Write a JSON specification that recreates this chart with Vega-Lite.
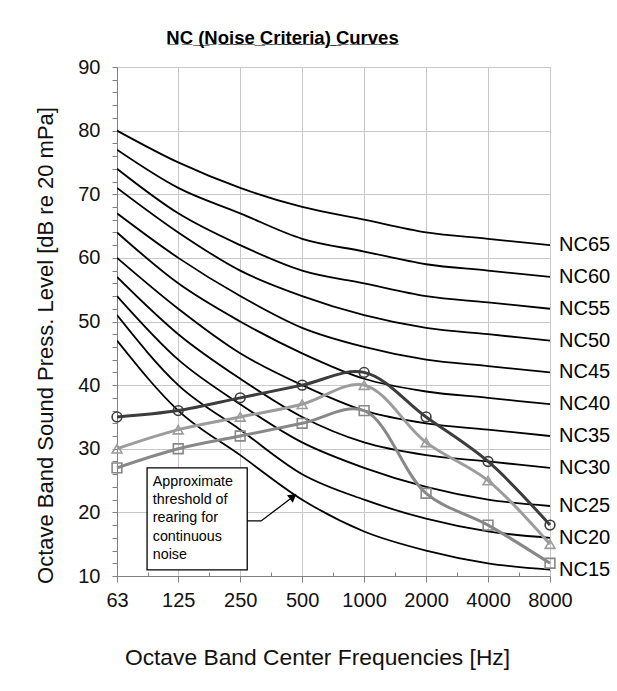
{
  "$schema": "https://vega.github.io/schema/vega-lite/v6.json",
  "width": 433,
  "height": 509,
  "autosize": {"type": "none"},
  "padding": {"left": 117, "top": 67, "right": 67, "bottom": 115},
  "background": "white",
  "config": {
    "font": "Liberation Sans",
    "view": {"stroke": "#808080", "strokeWidth": 1},
    "axis": {"domainColor": "#808080", "tickColor": "#808080", "gridColor": "#c8c8c8", "labelColor": "#111111", "titleColor": "#111111", "labelFont": "Liberation Sans", "titleFont": "Liberation Sans", "titleFontWeight": "normal"}
  },
  "title": {
    "text": "N\u0332C\u0332 \u0332(\u0332N\u0332o\u0332i\u0332s\u0332e\u0332 \u0332C\u0332r\u0332i\u0332t\u0332e\u0332r\u0332i\u0332a\u0332)\u0332 \u0332C\u0332u\u0332r\u0332v\u0332e\u0332s\u0332",
    "font": "Liberation Sans",
    "fontSize": 18.5,
    "fontWeight": "bold",
    "color": "#000000",
    "anchor": "middle",
    "frame": "group",
    "dx": -51,
    "baseline": "alphabetic",
    "offset": -5
  },
  "datasets": {
    "nc": [
      {"curve": "NC15", "freq": 63, "level": 47}, {"curve": "NC15", "freq": 125, "level": 36}, {"curve": "NC15", "freq": 250, "level": 29}, {"curve": "NC15", "freq": 500, "level": 22}, {"curve": "NC15", "freq": 1000, "level": 17}, {"curve": "NC15", "freq": 2000, "level": 14}, {"curve": "NC15", "freq": 4000, "level": 12}, {"curve": "NC15", "freq": 8000, "level": 11},
      {"curve": "NC20", "freq": 63, "level": 51}, {"curve": "NC20", "freq": 125, "level": 40}, {"curve": "NC20", "freq": 250, "level": 33}, {"curve": "NC20", "freq": 500, "level": 26}, {"curve": "NC20", "freq": 1000, "level": 22}, {"curve": "NC20", "freq": 2000, "level": 19}, {"curve": "NC20", "freq": 4000, "level": 17}, {"curve": "NC20", "freq": 8000, "level": 16},
      {"curve": "NC25", "freq": 63, "level": 54}, {"curve": "NC25", "freq": 125, "level": 44}, {"curve": "NC25", "freq": 250, "level": 37}, {"curve": "NC25", "freq": 500, "level": 31}, {"curve": "NC25", "freq": 1000, "level": 27}, {"curve": "NC25", "freq": 2000, "level": 24}, {"curve": "NC25", "freq": 4000, "level": 22}, {"curve": "NC25", "freq": 8000, "level": 21},
      {"curve": "NC30", "freq": 63, "level": 57}, {"curve": "NC30", "freq": 125, "level": 48}, {"curve": "NC30", "freq": 250, "level": 41}, {"curve": "NC30", "freq": 500, "level": 35}, {"curve": "NC30", "freq": 1000, "level": 31}, {"curve": "NC30", "freq": 2000, "level": 29}, {"curve": "NC30", "freq": 4000, "level": 28}, {"curve": "NC30", "freq": 8000, "level": 27},
      {"curve": "NC35", "freq": 63, "level": 60}, {"curve": "NC35", "freq": 125, "level": 52}, {"curve": "NC35", "freq": 250, "level": 45}, {"curve": "NC35", "freq": 500, "level": 40}, {"curve": "NC35", "freq": 1000, "level": 36}, {"curve": "NC35", "freq": 2000, "level": 34}, {"curve": "NC35", "freq": 4000, "level": 33}, {"curve": "NC35", "freq": 8000, "level": 32},
      {"curve": "NC40", "freq": 63, "level": 64}, {"curve": "NC40", "freq": 125, "level": 56}, {"curve": "NC40", "freq": 250, "level": 50}, {"curve": "NC40", "freq": 500, "level": 45}, {"curve": "NC40", "freq": 1000, "level": 41}, {"curve": "NC40", "freq": 2000, "level": 39}, {"curve": "NC40", "freq": 4000, "level": 38}, {"curve": "NC40", "freq": 8000, "level": 37},
      {"curve": "NC45", "freq": 63, "level": 67}, {"curve": "NC45", "freq": 125, "level": 60}, {"curve": "NC45", "freq": 250, "level": 54}, {"curve": "NC45", "freq": 500, "level": 49}, {"curve": "NC45", "freq": 1000, "level": 46}, {"curve": "NC45", "freq": 2000, "level": 44}, {"curve": "NC45", "freq": 4000, "level": 43}, {"curve": "NC45", "freq": 8000, "level": 42},
      {"curve": "NC50", "freq": 63, "level": 71}, {"curve": "NC50", "freq": 125, "level": 64}, {"curve": "NC50", "freq": 250, "level": 58}, {"curve": "NC50", "freq": 500, "level": 54}, {"curve": "NC50", "freq": 1000, "level": 51}, {"curve": "NC50", "freq": 2000, "level": 49}, {"curve": "NC50", "freq": 4000, "level": 48}, {"curve": "NC50", "freq": 8000, "level": 47},
      {"curve": "NC55", "freq": 63, "level": 74}, {"curve": "NC55", "freq": 125, "level": 67}, {"curve": "NC55", "freq": 250, "level": 62}, {"curve": "NC55", "freq": 500, "level": 58}, {"curve": "NC55", "freq": 1000, "level": 56}, {"curve": "NC55", "freq": 2000, "level": 54}, {"curve": "NC55", "freq": 4000, "level": 53}, {"curve": "NC55", "freq": 8000, "level": 52},
      {"curve": "NC60", "freq": 63, "level": 77}, {"curve": "NC60", "freq": 125, "level": 71}, {"curve": "NC60", "freq": 250, "level": 67}, {"curve": "NC60", "freq": 500, "level": 63}, {"curve": "NC60", "freq": 1000, "level": 61}, {"curve": "NC60", "freq": 2000, "level": 59}, {"curve": "NC60", "freq": 4000, "level": 58}, {"curve": "NC60", "freq": 8000, "level": 57},
      {"curve": "NC65", "freq": 63, "level": 80}, {"curve": "NC65", "freq": 125, "level": 75}, {"curve": "NC65", "freq": 250, "level": 71}, {"curve": "NC65", "freq": 500, "level": 68}, {"curve": "NC65", "freq": 1000, "level": 66}, {"curve": "NC65", "freq": 2000, "level": 64}, {"curve": "NC65", "freq": 4000, "level": 63}, {"curve": "NC65", "freq": 8000, "level": 62}
    ],
    "meas": [
      {"series": "square", "freq": 63, "level": 27}, {"series": "square", "freq": 125, "level": 30}, {"series": "square", "freq": 250, "level": 32}, {"series": "square", "freq": 500, "level": 34}, {"series": "square", "freq": 1000, "level": 36}, {"series": "square", "freq": 2000, "level": 23}, {"series": "square", "freq": 4000, "level": 18}, {"series": "square", "freq": 8000, "level": 12},
      {"series": "triangle", "freq": 63, "level": 30}, {"series": "triangle", "freq": 125, "level": 33}, {"series": "triangle", "freq": 250, "level": 35}, {"series": "triangle", "freq": 500, "level": 37}, {"series": "triangle", "freq": 1000, "level": 40}, {"series": "triangle", "freq": 2000, "level": 31}, {"series": "triangle", "freq": 4000, "level": 25}, {"series": "triangle", "freq": 8000, "level": 15},
      {"series": "circle", "freq": 63, "level": 35}, {"series": "circle", "freq": 125, "level": 36}, {"series": "circle", "freq": 250, "level": 38}, {"series": "circle", "freq": 500, "level": 40}, {"series": "circle", "freq": 1000, "level": 42}, {"series": "circle", "freq": 2000, "level": 35}, {"series": "circle", "freq": 4000, "level": 28}, {"series": "circle", "freq": 8000, "level": 18}
    ],
    "box": [{"x1": 88.2, "x2": 270.4, "y1": 27.0, "y2": 10.95}],
    "note": [{"freq": 94.0, "level": 25.9, "label": ["Approximate", "threshold of", "rearing for", "continuous", "noise"]}],
    "arrow": [
      {"order": 1, "freq": 270.4, "level": 18.65},
      {"order": 2, "freq": 316, "level": 18.65},
      {"order": 3, "freq": 445, "level": 22.3}
    ],
    "head": [{"freq": 452, "level": 22.5}]
  },
  "layer": [
    {
      "data": {"name": "nc"},
      "mark": {"type": "line", "color": "#000000", "strokeWidth": 1.8, "interpolate": "monotone", "clip": true},
      "encoding": {
        "x": {
          "field": "freq", "type": "quantitative",
          "scale": {"type": "log", "base": 2, "domain": [63, 8000], "nice": false},
          "axis": {
            "title": "Octave Band Center Frequencies [Hz]",
            "values": [63, 88.74, 125, 176.78, 250, 353.55, 500, 707.11, 1000, 1414.21, 2000, 2828.43, 4000, 5656.85, 8000],
            "tickCount": 40,
            "labelExpr": "datum.value % 1 === 0 ? format(datum.value, 'd') : ''",
            "labelFontSize": 20,
            "labelPadding": 8,
            "labelFlush": false,
            "labelOverlap": false,
            "tickSize": {"condition": {"test": "datum.value % 1 === 0", "value": 6}, "value": -4},
            "gridOpacity": {"condition": {"test": "datum.value % 1 === 0", "value": 1}, "value": 0},
            "titleFontSize": 22.8,
            "titleX": 200,
            "titleY": 81,
            "titleBaseline": "middle"
          }
        },
        "y": {
          "field": "level", "type": "quantitative",
          "scale": {"domain": [10, 90], "nice": false},
          "axis": {
            "title": "Octave Band Sound Press. Level [dB re 20 mPa]",
            "values": [10, 12, 14, 16, 18, 20, 22, 24, 26, 28, 30, 32, 34, 36, 38, 40, 42, 44, 46, 48, 50, 52, 54, 56, 58, 60, 62, 64, 66, 68, 70, 72, 74, 76, 78, 80, 82, 84, 86, 88, 90],
            "tickCount": 100,
            "labelExpr": "datum.value % 10 === 0 ? datum.label : ''",
            "labelFontSize": 20,
            "labelPadding": 12,
            "labelFlush": false,
            "labelOverlap": false,
            "tickSize": 5,
            "gridOpacity": {"condition": {"test": "datum.value % 10 === 0", "value": 1}, "value": 0},
            "titleFontSize": 22,
            "titleX": -72,
            "titleY": 278,
            "titleBaseline": "middle",
            "titleAngle": -90
          }
        },
        "detail": {"field": "curve"}
      }
    },
    {
      "data": {"name": "nc"},
      "transform": [{"filter": "datum.freq === 8000"}],
      "mark": {"type": "text", "align": "left", "baseline": "middle", "dx": 9, "fontSize": 20, "color": "#000000"},
      "encoding": {
        "x": {"field": "freq", "type": "quantitative"},
        "y": {"field": "level", "type": "quantitative"},
        "text": {"field": "curve"}
      }
    },
    {
      "data": {"name": "meas"},
      "mark": {"type": "line", "strokeWidth": 3, "interpolate": "catmull-rom"},
      "encoding": {
        "x": {"field": "freq", "type": "quantitative"},
        "y": {"field": "level", "type": "quantitative"},
        "color": {"field": "series", "type": "nominal", "scale": {"domain": ["square", "triangle", "circle"], "range": ["#888888", "#9c9c9c", "#3c3c3c"]}, "legend": null},
        "order": {"field": "freq", "type": "quantitative"}
      }
    },
    {
      "data": {"name": "meas"},
      "mark": {"type": "point", "filled": false, "strokeWidth": 1.6, "opacity": 1},
      "encoding": {
        "x": {"field": "freq", "type": "quantitative"},
        "y": {"field": "level", "type": "quantitative"},
        "shape": {"field": "series", "type": "nominal", "scale": {"domain": ["square", "triangle", "circle"], "range": ["square", "triangle-up", "circle"]}, "legend": null},
        "color": {"field": "series", "type": "nominal", "scale": {"domain": ["square", "triangle", "circle"], "range": ["#888888", "#9c9c9c", "#3c3c3c"]}, "legend": null},
        "size": {"value": 95}
      }
    },
    {
      "data": {"name": "box"},
      "mark": {"type": "rect", "fill": "#ffffff", "stroke": "#000000", "strokeWidth": 1.3},
      "encoding": {
        "x": {"field": "x1", "type": "quantitative"},
        "x2": {"field": "x2"},
        "y": {"field": "y1", "type": "quantitative"},
        "y2": {"field": "y2"}
      }
    },
    {
      "data": {"name": "note"},
      "mark": {"type": "text", "align": "left", "baseline": "top", "fontSize": 14.3, "lineHeight": 18.3, "color": "#000000"},
      "encoding": {
        "x": {"field": "freq", "type": "quantitative"},
        "y": {"field": "level", "type": "quantitative"},
        "text": {"field": "label"}
      }
    },
    {
      "data": {"name": "arrow"},
      "mark": {"type": "line", "color": "#000000", "strokeWidth": 1.3},
      "encoding": {
        "x": {"field": "freq", "type": "quantitative"},
        "y": {"field": "level", "type": "quantitative"},
        "order": {"field": "order", "type": "quantitative"}
      }
    },
    {
      "data": {"name": "head"},
      "mark": {"type": "point", "shape": "triangle-up", "filled": true, "color": "#000000", "size": 90, "angle": 52, "opacity": 1},
      "encoding": {
        "x": {"field": "freq", "type": "quantitative"},
        "y": {"field": "level", "type": "quantitative"}
      }
    }
  ]
}
